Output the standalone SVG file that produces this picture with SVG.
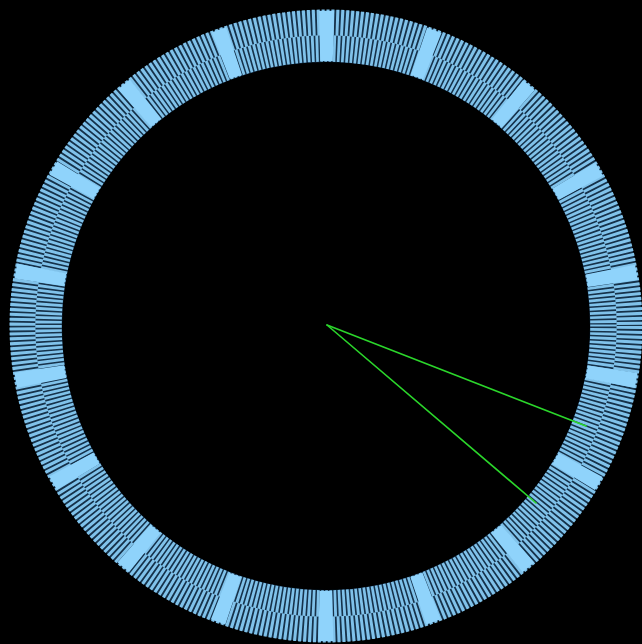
<svg xmlns="http://www.w3.org/2000/svg" width="642" height="644" viewBox="0 0 642 644">
  <defs>
    <filter id="soft" x="-5%" y="-5%" width="110%" height="110%">
      <feGaussianBlur stdDeviation="0.55"/>
    </filter>
  </defs>
  <style>
    .ringbg { fill: none; stroke: #14304a; stroke-width: 52; }
    .ticksOut { fill: none; stroke: #80c2ea; stroke-width: 26; stroke-dasharray: 3.0 1.767; }
    .ticksIn { fill: none; stroke: #80c2ea; stroke-width: 26.5; stroke-dasharray: 2.8 1.559; stroke-dashoffset: 2.18; }
    .marks { fill: none; stroke: #8fd3fb; stroke-width: 50; stroke-dasharray: 14 87.23; stroke-dashoffset: -43.6; }
    .hand { stroke: #2bd62b; stroke-width: 1.6; stroke-linecap: round; fill: none; }
  </style>
  <rect x="0" y="0" width="642" height="644" fill="#000000"/>
  <g id="dial" filter="url(#soft)">
    <circle class="ringbg" cx="326" cy="326" r="290"/>
    <circle class="ticksOut" cx="326" cy="326" r="303.5"/>
    <circle class="ticksIn" cx="326" cy="326" r="277.5"/>
    <circle class="marks" cx="326" cy="326" r="290"/>
  </g>
  <g id="hands">
    <line class="hand" x1="327" y1="325" x2="586" y2="426"/>
    <line class="hand" x1="327" y1="325" x2="536" y2="503"/>
  </g>
</svg>
